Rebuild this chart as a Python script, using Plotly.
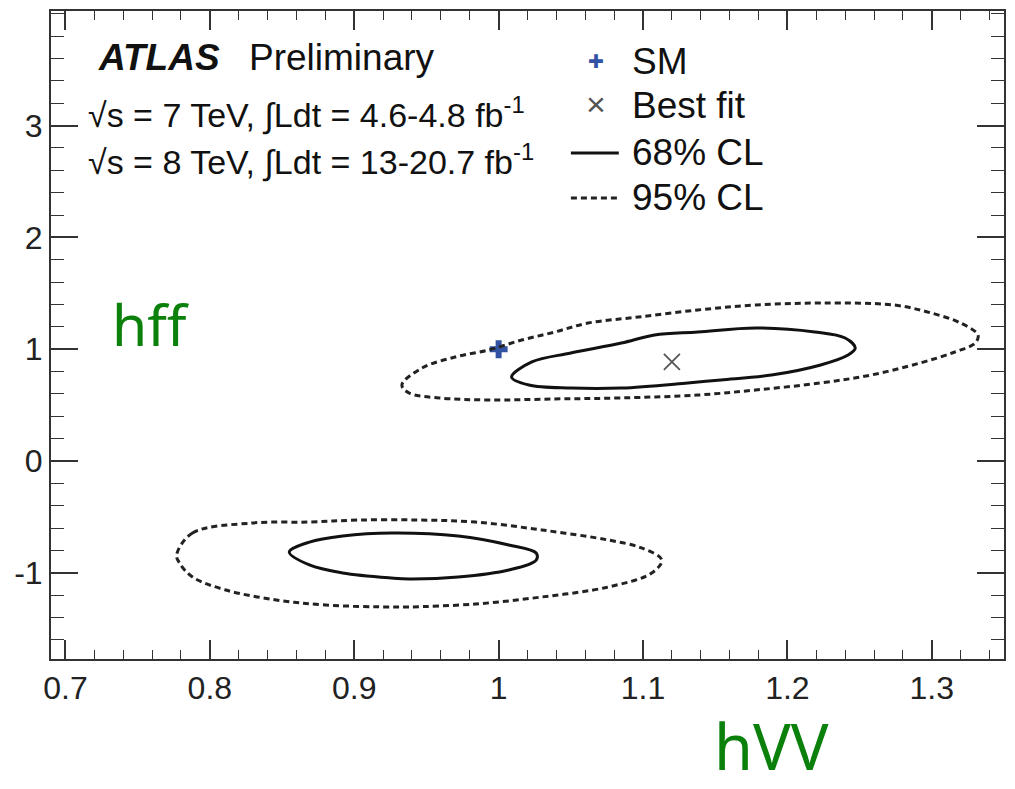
import plotly.graph_objects as go

# ---------------- data ----------------
sm_x = [1.0]
sm_y = [1.0]
best_x = [1.12]
best_y = [0.886]

# 68% CL contours (upper and lower islands)
cl68_up_x = [1.009, 1.023, 1.050, 1.085, 1.108, 1.138, 1.178, 1.219, 1.240, 1.247,
             1.242, 1.223, 1.189, 1.154, 1.131, 1.085, 1.050, 1.021, 1.009]
cl68_up_y = [0.751, 0.886, 0.966, 1.055, 1.127, 1.154, 1.190, 1.154, 1.100, 1.011,
             0.948, 0.859, 0.769, 0.725, 0.698, 0.653, 0.653, 0.680, 0.751]
cl68_lo_x = [0.855, 0.869, 0.892, 0.926, 0.972, 1.007, 1.026, 1.026, 1.007, 0.972,
             0.938, 0.926, 0.892, 0.869, 0.855]
cl68_lo_y = [-0.814, -0.725, -0.671, -0.644, -0.671, -0.751, -0.823, -0.886, -0.975, -1.038,
             -1.055, -1.047, -1.002, -0.930, -0.814]

# 95% CL contours
cl95_up_x = [0.933, 0.947, 0.970, 0.993, 1.016, 1.039, 1.062, 1.097, 1.138, 1.178, 1.223,
             1.274, 1.297, 1.320, 1.332, 1.330, 1.316, 1.292, 1.258, 1.223, 1.178,
             1.138, 1.085, 1.039, 0.993, 0.959, 0.938, 0.933]
cl95_up_y = [0.680, 0.832, 0.930, 0.993, 1.082, 1.154, 1.234, 1.288, 1.351, 1.395, 1.413,
             1.395, 1.333, 1.234, 1.127, 1.055, 0.975, 0.877, 0.769, 0.698, 0.635,
             0.590, 0.564, 0.555, 0.546, 0.564, 0.608, 0.680]
cl95_lo_x = [0.777, 0.788, 0.829, 0.869, 0.903, 0.945, 0.984, 1.030, 1.076, 1.099,
             1.113, 1.106, 1.076, 1.030, 0.984, 0.938, 0.926, 0.880, 0.846, 0.811,
             0.788, 0.779, 0.777]
cl95_lo_y = [-0.840, -0.644, -0.555, -0.546, -0.528, -0.528, -0.546, -0.617, -0.707, -0.778,
             -0.886, -1.002, -1.127, -1.216, -1.279, -1.306, -1.306, -1.288, -1.243, -1.154,
             -1.038, -0.912, -0.840]

x_ticks = [0.7, 0.8, 0.9, 1.0, 1.1, 1.2, 1.3]
x_tick_text = ["0.7", "0.8", "0.9", "1", "1.1", "1.2", "1.3"]
y_ticks = [-1, 0, 1, 2, 3]
y_tick_text = ["-1", "0", "1", "2", "3"]
x_range = [0.69, 1.35]
y_range = [-1.771, 4.025]

legend_labels = ["SM", "Best fit", "68% CL", "95% CL"]

# ---------------- figure ----------------
FONT = "Liberation Sans, Arial, sans-serif"
SM_COLOR = "#3253a3"
FIT_COLOR = "#555555"
fig = go.Figure()

fig.add_trace(go.Scatter(
    x=sm_x, y=sm_y, mode="markers", name=legend_labels[0],
    marker=dict(symbol="cross", size=15, color=SM_COLOR, line=dict(width=0)),
))
fig.add_trace(go.Scatter(
    x=best_x, y=best_y, mode="markers", name=legend_labels[1],
    marker=dict(symbol="x-thin", size=16, color=FIT_COLOR,
                line=dict(width=1.8, color=FIT_COLOR)),
))
fig.add_trace(go.Scatter(
    x=cl68_up_x + [None] + cl68_lo_x, y=cl68_up_y + [None] + cl68_lo_y,
    mode="lines", name=legend_labels[2],
    line=dict(color="#111111", width=3, shape="spline", smoothing=1.0),
))
fig.add_trace(go.Scatter(
    x=cl95_up_x + [None] + cl95_lo_x, y=cl95_up_y + [None] + cl95_lo_y,
    mode="lines", name=legend_labels[3],
    line=dict(color="#222222", width=3, dash="6px,4px", shape="spline", smoothing=1.0),
))

axis_common = dict(
    showline=True, linecolor="#333333", linewidth=2, mirror="allticks",
    ticks="inside", tickcolor="#333333", tickwidth=1.5,
    showgrid=False, zeroline=False,
    tickfont=dict(family=FONT, size=32, color="#222222"),
)
fig.update_xaxes(range=x_range, tickvals=x_ticks, ticktext=x_tick_text, ticklen=19,
                 minor=dict(dtick=0.02, tick0=0.7, ticks="inside", ticklen=9,
                            tickcolor="#333333", tickwidth=1.2),
                 **axis_common)
fig.update_yaxes(range=y_range, tickvals=y_ticks, ticktext=y_tick_text, ticklen=27,
                 minor=dict(dtick=0.2, tick0=0, ticks="inside", ticklen=13,
                            tickcolor="#333333", tickwidth=1.2),
                 **axis_common)

L, R, T, B = 51, 9, 11, 130
W, H = 1015, 789
pw, ph = W - L - R, H - T - B


def px(xp):
    return (xp - L) / pw


def py(yp):
    return (H - B - yp) / ph


def txt(text, xp, yp, size, color="#111111", family=FONT, xanchor="left"):
    fig.add_annotation(text=text, x=px(xp), y=py(yp), xref="paper", yref="paper",
                       xanchor=xanchor, yanchor="middle", showarrow=False,
                       font=dict(family=family, size=size, color=color))


txt("<b><i>ATLAS</i></b>", 96, 58, 37)
txt("Preliminary", 247, 58, 37)
txt("√s = 7 TeV, ∫Ldt = 4.6-4.8 fb<sup>-1</sup>", 86, 113, 34)
txt("√s = 8 TeV, ∫Ldt = 13-20.7 fb<sup>-1</sup>", 86, 160, 34)
txt("hff", 110, 324, 57, color="#0b800b", family="Noto Sans, sans-serif")
txt("hVV", 713, 745, 63, color="#0b800b", family="Noto Sans, sans-serif")

# manual legend (key symbols + labels)
leg_rows = [61, 106, 153, 198]
txt("✚", 597, leg_rows[0], 19, color=SM_COLOR, family="DejaVu Sans, sans-serif",
    xanchor="center")
txt("×", 597, leg_rows[1] - 2, 34, color=FIT_COLOR, xanchor="center")
fig.add_shape(type="line", xref="paper", yref="paper",
              x0=px(572), x1=px(620), y0=py(leg_rows[2]), y1=py(leg_rows[2]),
              line=dict(color="#111111", width=3))
fig.add_shape(type="line", xref="paper", yref="paper",
              x0=px(572), x1=px(620), y0=py(leg_rows[3]), y1=py(leg_rows[3]),
              line=dict(color="#222222", width=3, dash="6px,4px"))
for lbl, yy in zip(legend_labels, leg_rows):
    txt(lbl, 631, yy, 37)

fig.update_layout(
    width=W, height=H,
    margin=dict(l=L, r=R, t=T, b=B),
    paper_bgcolor="white", plot_bgcolor="white",
    showlegend=False,
)

fig.write_html("out.html")
